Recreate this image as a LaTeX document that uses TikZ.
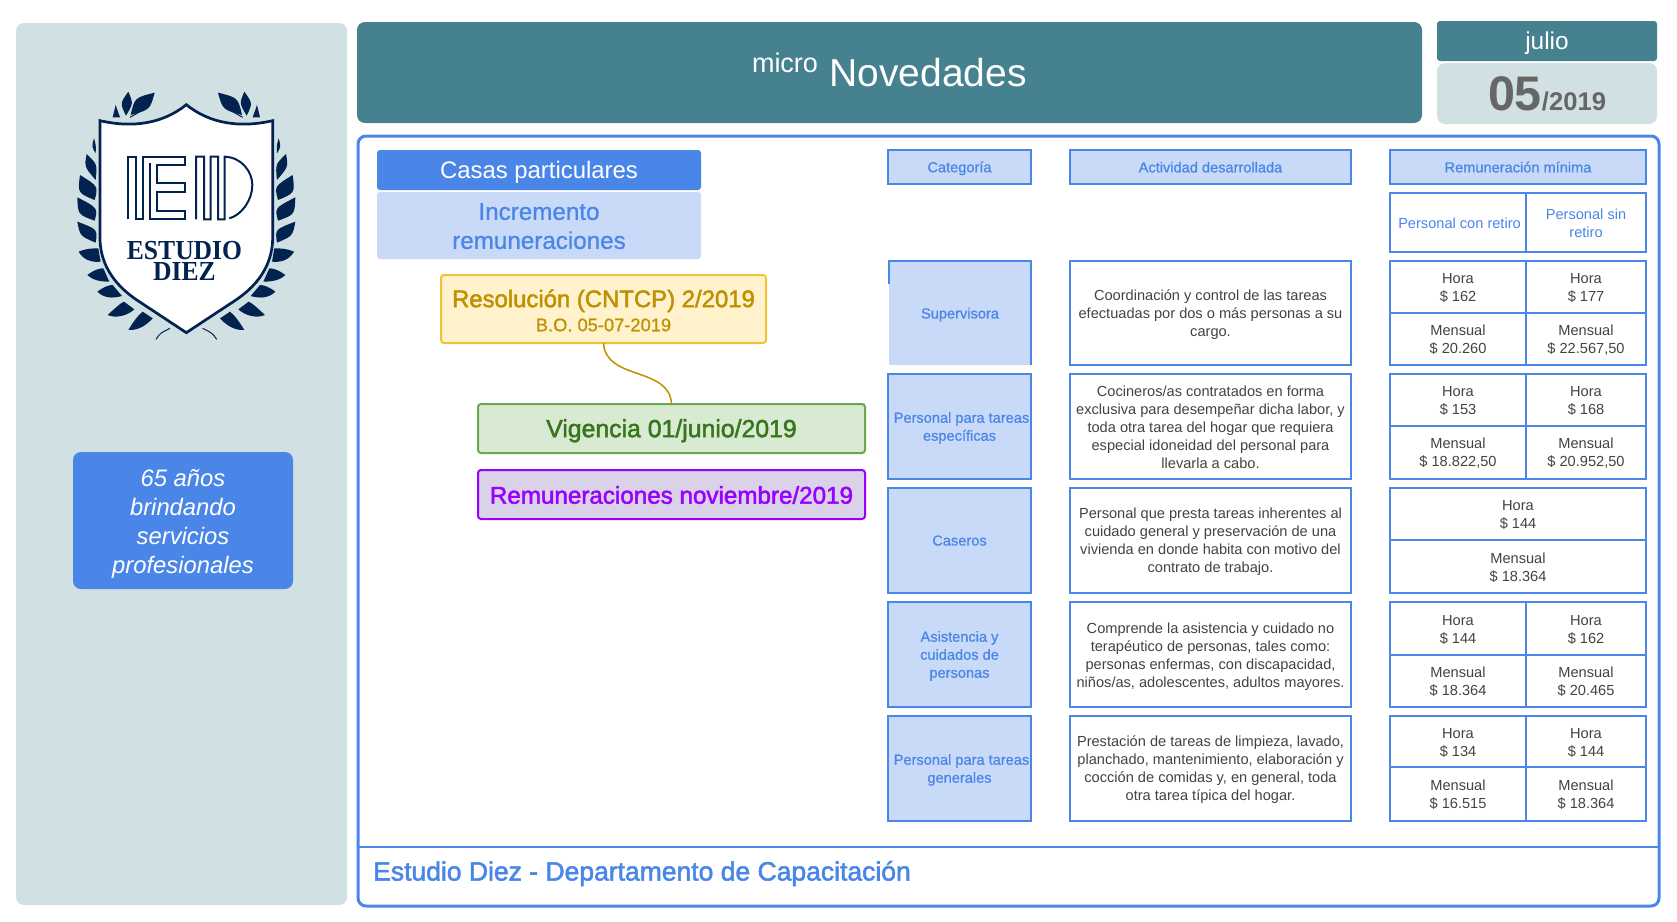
\documentclass[tikz,border=0pt]{standalone}
\usepackage{fontspec}
\setmainfont{Liberation Sans}
\newfontfamily\logofont[FakeStretch=0.93]{Liberation Serif}
\newfontfamily\medf[FakeBold=2]{Liberation Sans}
\newfontfamily\medl[FakeBold=0.8]{Liberation Sans}
\definecolor{cblue}{HTML}{4A86E8}
\definecolor{clight}{HTML}{C9DAF8}
\definecolor{cteal}{HTML}{45818E}
\definecolor{cpale}{HTML}{D0E0E3}
\definecolor{cnavy}{HTML}{02234F}
\definecolor{ctext}{HTML}{434343}
\definecolor{cgrey}{HTML}{666666}
\definecolor{cyfill}{HTML}{FFF2CC}
\definecolor{cyline}{HTML}{F1C232}
\definecolor{cytext}{HTML}{BF9000}
\definecolor{cgfill}{HTML}{D9EAD3}
\definecolor{cgline}{HTML}{6AA84F}
\definecolor{cgtext}{HTML}{38761D}
\definecolor{cpfill}{HTML}{D9D2E9}
\definecolor{cptext}{HTML}{9900FF}
\newcommand{\fs}[2]{\fontsize{#1}{#2}\selectfont}
\newcommand{\dn}[1]{\rule{0pt}{#1pt}}
\newcommand{\bx}[7]{%
  \pgfmathsetmacro\bw{#5-#3}\pgfmathsetmacro\bh{#6-#4}%
  \pgfmathsetmacro\bcx{(#3+#5)/2}\pgfmathsetmacro\bcy{(#4+#6)/2}%
  \node[#1,minimum width=\bw pt,minimum height=\bh pt,inner sep=0pt,outer sep=0pt,align=center] (#2) at (\bcx,\bcy) {#7};}
\newcommand{\payrow}[8]{% id y1 ymid y2 a b c d
  \bx{paycell}{#1a}{1390}{#2}{1526}{#3}{\dn{12.8}Hora\\#5}
  \bx{paycell}{#1b}{1526}{#2}{1646}{#3}{\dn{12.8}Hora\\#6}
  \bx{paycell}{#1c}{1390}{#3}{1526}{#4}{\dn{12.8}Mensual\\#7}
  \bx{paycell}{#1d}{1526}{#3}{1646}{#4}{\dn{12.8}Mensual\\#8}}
\tikzset{
  panel/.style={rounded corners=8pt},
  smallr/.style={rounded corners=3pt},
  headcell/.style={draw=cblue,line width=2.2pt,fill=clight,text=cblue,font=\medl\fs{14.6}{18}},
  catcell/.style={draw=cblue,line width=2.2pt,fill=clight,text=cblue,font=\medl\fs{14.6}{18}},
  actcell/.style={draw=cblue,line width=2.2pt,fill=white,text=ctext,font=\fs{14.6}{18}},
  paycell/.style={draw=cblue,line width=2pt,fill=white,text=ctext,font=\fs{14.6}{18}},
  subcell/.style={draw=cblue,line width=2pt,fill=white,text=cblue,font=\fs{14.6}{18}},
  leaf/.style={fill=cnavy,draw=none},
  stem/.style={draw=cnavy,line width=1pt},
  iedline/.style={draw=cnavy,line width=2pt,line join=miter}
}
\newcommand{\leaves}{%
  \path[leaf] (282,415) .. controls (275,440) .. (287,460) .. controls (288,435) .. cycle;
  \path[leaf] (260,462) .. controls (253,500) .. (287,540) .. controls (292,493) .. cycle;
  \path[leaf] (240,525) .. controls (233,579) .. (284,600) .. controls (295,559) .. cycle;
  \path[leaf] (232,592) .. controls (234,644) .. (284,662) .. controls (294,624) .. cycle;
  \path[leaf] (232,665) .. controls (240,708) .. (287,728) .. controls (293,688) .. cycle;
  \path[leaf] (236,755) .. controls (260,745) and (280,745) .. (295,745) -- (302,785) .. controls (275,788) and (250,780) .. cycle;
  \path[leaf] (262,825) .. controls (285,808) and (300,805) .. (310,805) -- (328,845) .. controls (295,845) and (275,838) .. cycle;
  \path[leaf] (292,875) .. controls (315,858) and (330,855) .. (338,855) -- (366,888) .. controls (335,897) and (310,893) .. cycle;
  \path[leaf] (323,945) .. controls (345,925) and (360,910) .. (372,905) -- (403,928) .. controls (385,945) and (350,957) .. cycle;
  \path[leaf] (385,990) .. controls (400,965) and (415,945) .. (428,935) -- (458,955) .. controls (440,975) and (415,992) .. cycle;
  \path[leaf] (338,352) .. controls (342,335) .. (347,315) .. controls (355,335) .. (360,352) -- cycle;
  \path[leaf] (385,275) .. controls (360,310) .. (378,347) .. controls (400,310) .. cycle;
  \path[leaf] (464,278) .. controls (404,293) .. (392,345) .. controls (450,329) .. cycle;
  \draw[stem] (390,352) -- (420,335);
  \draw[stem] (468,1018) .. controls (480,1000) .. (510,985);
}
\begin{document}
\begin{tikzpicture}[x=1pt,y=-1pt]
\useasboundingbox (0,0) rectangle (1677,921);
\fill[white] (0,0) rectangle (1677,921);
% left column
\bx{fill=cpale,panel}{sidepanel}{16}{23}{347}{905}{}
\begin{scope}[x=0.33333pt,y=-0.33333pt]
  \leaves
\end{scope}
\begin{scope}[x=-0.33333pt,y=-0.33333pt,shift={(372.67pt,0pt)}]
  \leaves
\end{scope}
\begin{scope}[x=0.33333pt,y=-0.33333pt]
  \draw[draw=cnavy,fill=white,line width=2.7pt,line join=miter]
    (300,362) .. controls (400,385) and (490,370) .. (559,314)
    .. controls (628,370) and (718,385) .. (818,362) -- (818,720)
    .. controls (815,800) and (770,860) .. (700,905) -- (559,998) -- (418,905)
    .. controls (348,860) and (303,800) .. (300,720) -- cycle;
  \draw[iedline] (451,490) -- (451,658) -- (554,658) -- (554,632) -- (471,632) -- (471,575) -- (554,575) -- (554,550) -- (471,550) -- (471,495) -- (554,495) -- (554,470) -- (429,470) -- (429,658) -- (407,658) -- (407,470) -- (385,470) -- (385,658);
  \draw[iedline] (588,658) -- (588,470) -- (612,470) -- (612,658) -- (632,658) -- (632,470) -- (654,470) -- (654,658) -- (674,658) -- (674,470) .. controls (725,472) and (757,515) .. (757,555) .. controls (757,600) and (725,645) .. (688,655);
\end{scope}
\node[text=cnavy,font=\logofont\bfseries\fs{27.5}{21.5},inner sep=0pt,align=center] (estudio) at (184.5,261) {ESTUDIO\\DIEZ};
\bx{fill=cblue,panel,text=white,font=\itshape\fs{23.8}{29}}{anios}{73}{452}{293}{589}{\dn{23.4}65 años\\brindando\\servicios\\profesionales}
% header
\bx{fill=cteal,panel}{header}{357}{22}{1422}{123}{}
\node[text=white,font=\fs{27}{27},inner sep=0pt] (micro) at (785,63) {micro};
\node[text=white,font=\fs{39}{39},inner sep=0pt] (nov) at (928,73) {Novedades};
\bx{fill=cteal,smallr,text=white,font=\fs{24.4}{24}}{julio}{1437}{21}{1657}{61}{\dn{21.8}julio}
\bx{fill=cpale,panel}{datebox}{1437}{63}{1657}{124}{}
\node[anchor=base,text=cgrey,font=\bfseries,inner sep=0pt] (fecha) at (1547,110) {\fs{48.5}{50}05\fs{25.6}{26}/2019};
% main frame
\bx{draw=cblue,line width=3pt,fill=white,panel}{frame}{358}{136}{1659}{906}{}
\coordinate (fl) at (358,847);
\coordinate (fr) at (1659,847);
\draw[draw=cblue,line width=2pt] (fl) -- (fr);
\node[anchor=west,text=cblue,font=\medf\fs{26.5}{26},inner sep=0pt] (footer) at (373,873.5) {Estudio Diez - Departamento de Capacitación};
% left of main frame
\bx{fill=cblue,smallr,text=white,font=\fs{23.9}{29}}{casas}{377}{150}{701}{190}{\dn{21.5}Casas particulares}
\bx{fill=clight,smallr,text=cblue,font=\medl\fs{24.2}{29}}{incr}{377}{192}{701}{259}{\dn{18}Incremento\\remuneraciones}
\bx{draw=cyline,line width=2pt,fill=cyfill,smallr,text=cytext}{res}{441}{275}{766}{343}{\medf\fs{23.9}{24}\dn{20.6}Resolución (CNTCP) 2/2019\\[5.4pt]\medl\fs{18.3}{20}B.O. 05-07-2019}
\bx{draw=cgline,line width=2pt,fill=cgfill,smallr,text=cgtext,font=\medf\fs{24.8}{24}}{vig}{478}{404}{865}{453}{\dn{22.5}Vigencia 01/junio/2019}
\bx{draw=cptext,line width=2pt,fill=cpfill,smallr,text=cptext,font=\medf\fs{24.2}{24}}{rem}{478}{470}{865}{519}{\dn{18.6}Remuneraciones noviembre/2019}
\draw[draw=cytext,line width=1.5pt] (res.south) .. controls ([shift={(2,38)}]res.south) and ([shift={(-2,-38)}]vig.north) .. (vig.north);
% table heads
\bx{headcell}{hcat}{888}{150}{1031}{184}{\dn{13.5}Categoría}
\bx{headcell}{hact}{1070}{150}{1351}{184}{\dn{11}Actividad desarrollada}
\bx{headcell}{hrem}{1390}{150}{1646}{184}{\dn{11}Remuneración mínima}
\bx{subcell}{hcon}{1390}{193}{1526}{252}{\dn{12.8}\hspace*{3pt}Personal con retiro}
\bx{subcell}{hsin}{1526}{193}{1646}{252}{\dn{12.8}Personal sin\\retiro}
% categories
\bx{fill=clight,text=cblue,font=\medl\fs{14.6}{18}}{sup}{889}{261}{1031}{365}{\dn{14}Supervisora}
\draw[draw=cblue,line width=2pt] ([yshift=-23pt]sup.north west) -- (sup.north west) -- (sup.north east) -- (sup.south east);
\bx{catcell}{cat2}{888}{374}{1031}{479}{\dn{13.5}\hspace*{4pt}Personal para tareas\\específicas}
\bx{catcell}{cat3}{888}{488}{1031}{593}{Caseros}
\bx{catcell}{cat4}{888}{602}{1031}{707}{\dn{13.5}Asistencia y\\cuidados de\\personas}
\bx{catcell}{cat5}{888}{716}{1031}{821}{\dn{13.5}\hspace*{4pt}Personal para tareas\\generales}
% activities
\bx{actcell}{act1}{1070}{261}{1351}{365}{\dn{14.8}Coordinación y control de las tareas\\efectuadas por dos o más personas a su\\cargo.}
\bx{actcell}{act2}{1070}{374}{1351}{479}{\dn{12.8}Cocineros/as contratados en forma\\exclusiva para desempeñar dicha labor, y\\toda otra tarea del hogar que requiera\\especial idoneidad del personal para\\llevarla a cabo.}
\bx{actcell}{act3}{1070}{488}{1351}{593}{\dn{12.8}Personal que presta tareas inherentes al\\cuidado general y preservación de una\\vivienda en donde habita con motivo del\\contrato de trabajo.}
\bx{actcell}{act4}{1070}{602}{1351}{707}{\dn{14.8}Comprende la asistencia y cuidado no\\terapéutico de personas, tales como:\\personas enfermas, con discapacidad,\\niños/as, adolescentes, adultos mayores.}
\bx{actcell}{act5}{1070}{716}{1351}{821}{\dn{12.8}Prestación de tareas de limpieza, lavado,\\planchado, mantenimiento, elaboración y\\cocción de comidas y, en general, toda\\otra tarea típica del hogar.}
% pay
\payrow{p1}{261}{313}{365}{\$ 162}{\$ 177}{\$ 20.260}{\$ 22.567,50}
\payrow{p2}{374}{426}{479}{\$ 153}{\$ 168}{\$ 18.822,50}{\$ 20.952,50}
\bx{paycell}{p3a}{1390}{488}{1646}{540}{\dn{12.8}Hora\\\$ 144}
\bx{paycell}{p3b}{1390}{540}{1646}{593}{\dn{12.8}Mensual\\\$ 18.364}
\payrow{p4}{602}{655}{707}{\$ 144}{\$ 162}{\$ 18.364}{\$ 20.465}
\payrow{p5}{716}{767}{821}{\$ 134}{\$ 144}{\$ 16.515}{\$ 18.364}
\end{tikzpicture}
\end{document}
